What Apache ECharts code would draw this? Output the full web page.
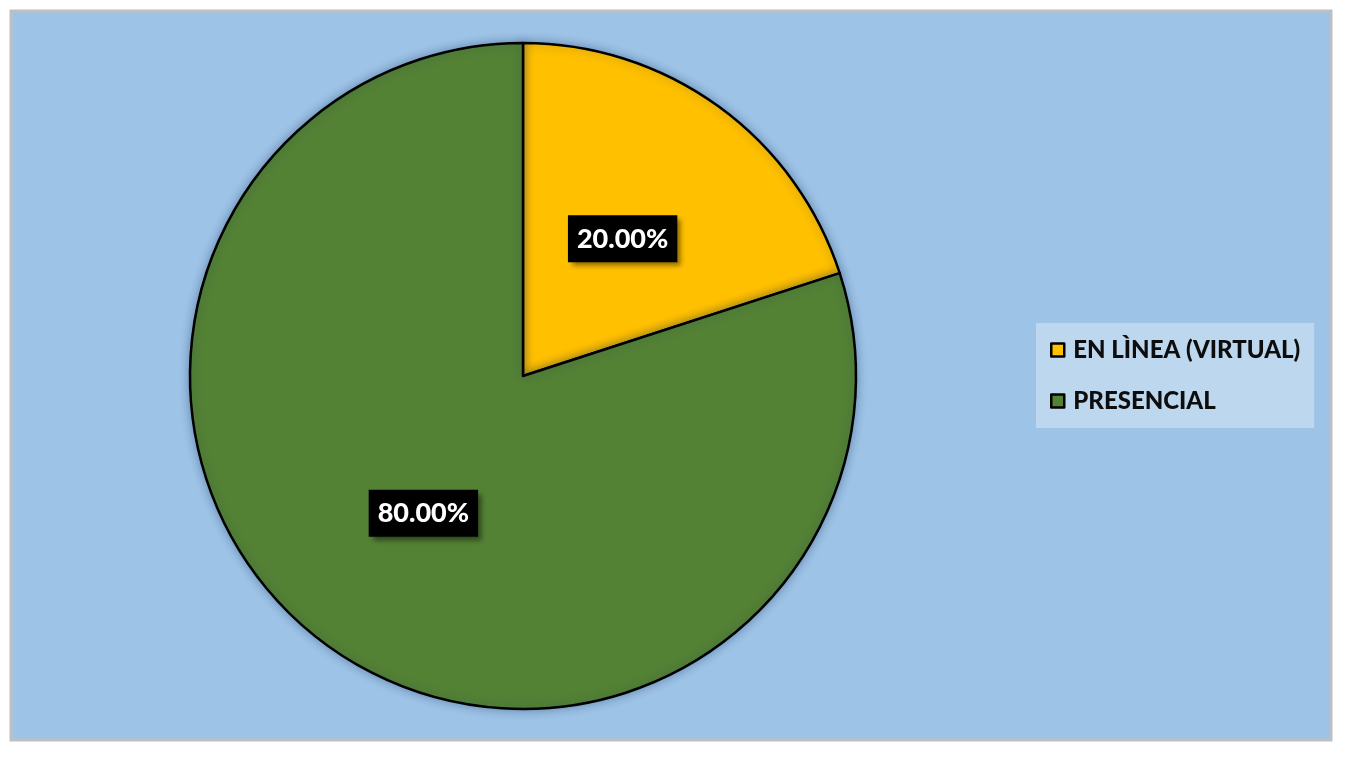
<!DOCTYPE html>
<html>
<head>
<meta charset="utf-8">
<script src="https://cdn.jsdelivr.net/npm/echarts@6/dist/echarts.min.js"></script>
<style>
  html, body { margin: 0; padding: 0; background: #fff; }
  #chart { width: 1347px; height: 759px; }
</style>
</head>
<body>
<div id="chart"></div>
<script>
// datos del gráfico
const categories = ['EN LÌNEA (VIRTUAL)', 'PRESENCIAL']
const values = [20, 80]

const sliceColors = ['#FFC000', '#548235']

const chart = echarts.init(document.getElementById('chart'))

const option = {
  backgroundColor: '#ffffff',
  animation: false,
  graphic: [
    {
      type: 'rect',
      z: -10,
      shape: { x: 11, y: 11, width: 1320, height: 729 },
      style: { fill: '#9DC3E6', stroke: '#BFBFBF', lineWidth: 3 }
    }
  ],
  legend: {
    orient: 'vertical',
    left: 1036,
    top: 323,
    padding: [14, 14, 14, 14],
    itemGap: 25,
    itemWidth: 13,
    itemHeight: 13,
    icon: 'rect',
    backgroundColor: '#BDD7EE',
    itemStyle: { borderColor: '#000', borderWidth: 2.5 },
    textStyle: {
      fontFamily: 'Lato',
      fontWeight: 900,
      fontSize: 24,
      lineHeight: 26,
      color: '#0D0D0D',
      padding: [0, 0, 0, 4]
    },
    data: categories
  },
  series: [
    {
      type: 'pie',
      center: [523, 376],
      radius: 333,
      startAngle: 90,
      clockwise: true,
      silent: true,
      itemStyle: {
        borderColor: '#000',
        borderWidth: 2.5,
        shadowBlur: 10,
        shadowColor: 'rgba(0, 40, 90, 0.35)'
      },
      label: {
        show: true,
        position: 'inside',
        formatter: p => p.value.toFixed(2) + '%',
        fontFamily: 'Lato',
        fontWeight: 900,
        fontSize: 27,
        color: '#fff',
        backgroundColor: '#000',
        padding: [8, 9, 8, 9],
        lineHeight: 31,
        shadowColor: 'rgba(0, 0, 0, 0.45)',
        shadowBlur: 5,
        shadowOffsetX: 4,
        shadowOffsetY: 4
      },
      labelLine: { show: false },
      data: categories.map((name, i) => ({
        name: name,
        value: values[i],
        itemStyle: { color: sliceColors[i] }
      }))
    }
  ]
}

chart.setOption(option)
</script>
</body>
</html>
